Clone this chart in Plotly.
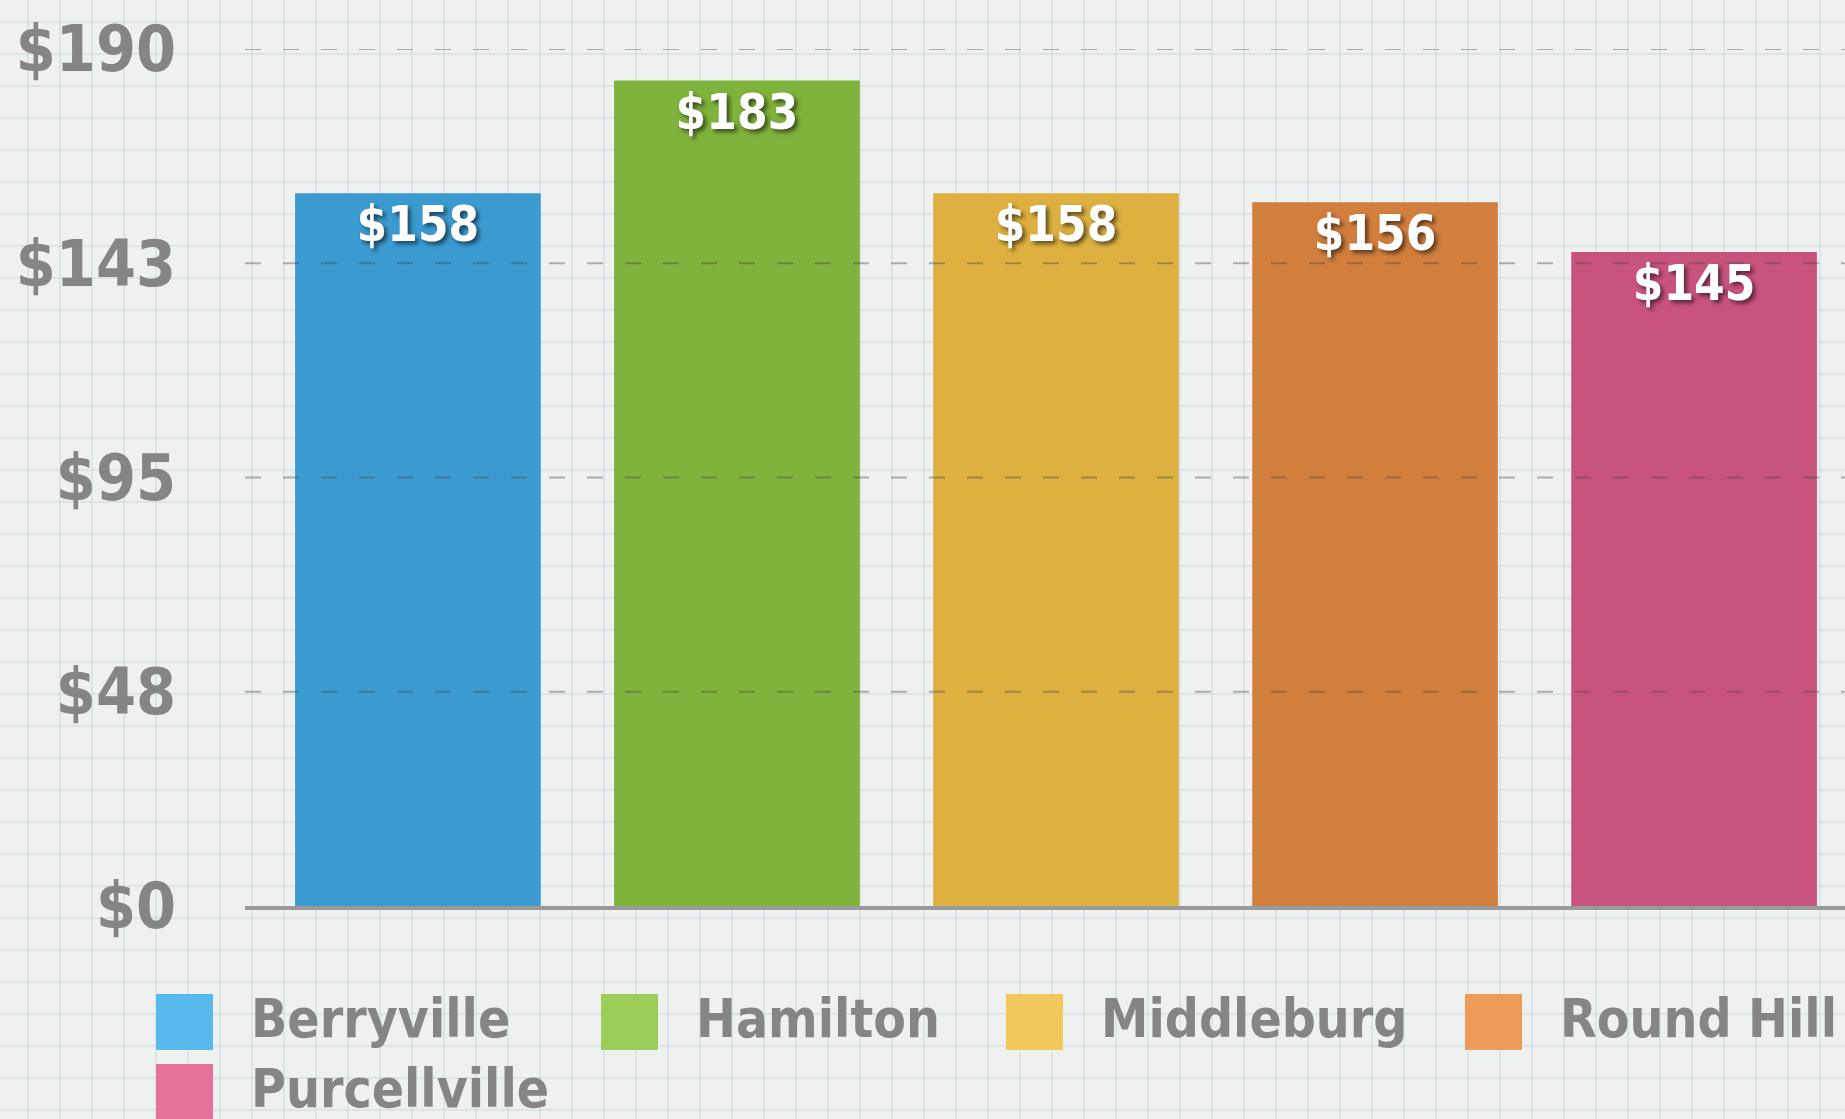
import numpy as np
import plotly.graph_objects as go

# ---- data ----
categories = ["Berryville", "Hamilton", "Middleburg", "Round Hill", "Purcellville"]
values = [158, 183, 158, 156, 145]
tick_vals = [0, 47.5, 95, 142.5, 190]
tick_text = ["$0", "$48", "$95", "$143", "$190"]

# ---- styles ----
bar_colors = ["#3b9bd1", "#80b33b", "#ddb040", "#d27f3e", "#c9537f"]
legend_colors = ["#59b8ec", "#9bcd58", "#f2c75c", "#ee9a58", "#e6729c"]
FONT = "DejaVu Sans Condensed, Liberation Sans Narrow, sans-serif"
GRAY = "#858585"

W, H = 1845, 1119
L, R, T, B = 245, 0, 49, 213
PW, PH = W - L - R, H - T - B


def px2paper_x(X):
    return (X - L) / PW


def px2paper_y(Y):
    return (H - B - Y) / PH


fig = go.Figure()
fig.add_trace(go.Bar(
    x=categories, y=values,
    marker=dict(color=bar_colors, line=dict(width=0)),
    texttemplate="$%{y}", textposition="inside", insidetextanchor="end",
    textfont=dict(family=FONT, size=49, color="white", weight="bold",
                  shadow="3px 3px 4px rgba(0,0,0,0.55)"),
    showlegend=False, cliponaxis=False,
))

shapes = []
# graph-paper background grid (decoration)
for X in np.arange(28, W, 32):
    shapes.append(dict(type="line", xref="paper", yref="paper",
                       x0=px2paper_x(X), x1=px2paper_x(X), y0=px2paper_y(0), y1=px2paper_y(H),
                       line=dict(color="rgba(190,210,215,0.4)", width=2), layer="below"))
for Y in np.arange(22, H, 32):
    shapes.append(dict(type="line", xref="paper", yref="paper",
                       x0=px2paper_x(0), x1=px2paper_x(W), y0=px2paper_y(Y), y1=px2paper_y(Y),
                       line=dict(color="rgba(190,210,215,0.4)", width=2), layer="below"))

# dashed value gridlines drawn over the bars
for v in tick_vals[1:]:
    shapes.append(dict(type="line", xref="paper", yref="y", x0=0, x1=1, y0=v, y1=v,
                       line=dict(color="rgba(70,70,70,0.4)", width=2, dash="16px,22px"),
                       layer="above"))

# manual legend with large swatches
legend_x = [156, 601, 1006, 1465, 156]
legend_row_y = [1022, 1092]
legend_row = [0, 0, 0, 0, 1]
annotations = []
for name, col, lx, row in zip(categories, legend_colors, legend_x, legend_row):
    cy = legend_row_y[row]
    shapes.append(dict(type="rect", xref="paper", yref="paper",
                       x0=px2paper_x(lx), x1=px2paper_x(lx + 57),
                       y0=px2paper_y(cy - 28), y1=px2paper_y(cy + 28),
                       fillcolor=col, line=dict(width=0), layer="above"))
    annotations.append(dict(xref="paper", yref="paper", x=px2paper_x(lx + 93), y=px2paper_y(cy - 4),
                            text=name, showarrow=False, xanchor="left", yanchor="middle",
                            font=dict(family=FONT, size=53, color=GRAY, weight="bold")))

fig.update_layout(
    width=W, height=H,
    margin=dict(l=L, r=R, t=T, b=B, pad=0),
    paper_bgcolor="#eff0f0", plot_bgcolor="rgba(0,0,0,0)",
    bargap=0.23, showlegend=False,
    shapes=shapes, annotations=annotations,
    xaxis=dict(type="category", range=[-0.542, 4.473], showticklabels=False,
               showgrid=False, zeroline=False, showline=True,
               linecolor="#9a9a9a", linewidth=4, ticks=""),
    yaxis=dict(range=[0, 190], tickvals=tick_vals, ticktext=tick_text,
               showgrid=False, zeroline=False, showline=False, ticks="",
               ticklabelstandoff=68, automargin=False,
               tickfont=dict(family=FONT, size=64, color=GRAY, weight="bold")),
)

fig.write_html("out.html", config={"displayModeBar": False},
               post_script="document.body.style.margin='0';document.body.style.overflow='hidden';")
